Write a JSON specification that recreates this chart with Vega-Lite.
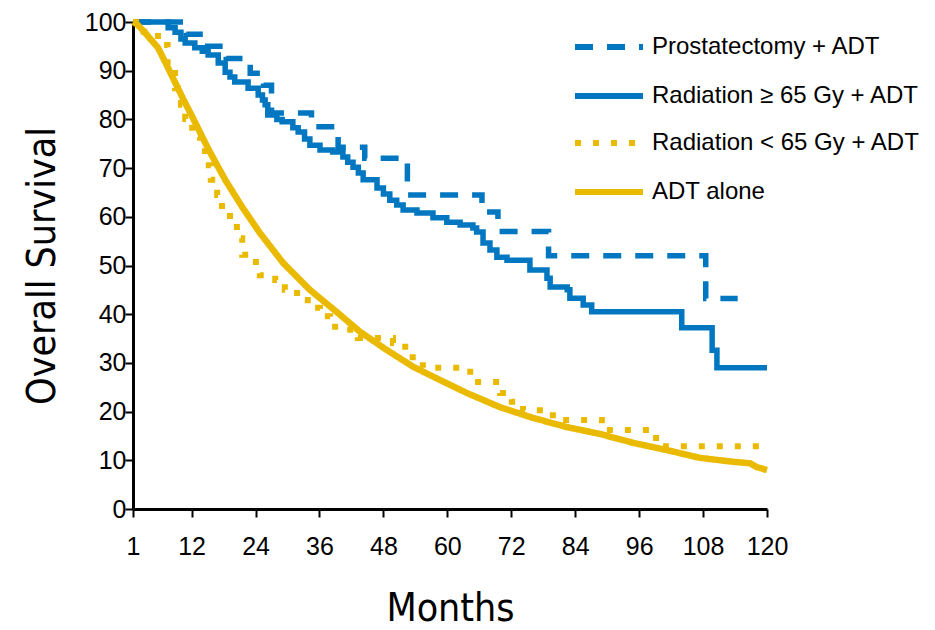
{
  "$schema": "https://vega.github.io/schema/vega-lite/v6.json",
  "width": 634,
  "height": 487,
  "autosize": "none",
  "padding": {"left": 133, "top": 22, "right": 168, "bottom": 121},
  "background": "white",
  "config": {
    "view": {"stroke": null},
    "font": "Liberation Sans",
    "axis": {
      "domainColor": "black", "domainWidth": 3, "tickColor": "black", "tickWidth": 2, "tickSize": 8,
      "labelColor": "black", "labelFont": "Liberation Sans", "labelFontSize": 25, "labelFlush": false, "labelOverlap": false,
      "titleColor": "black", "titleFont": "DejaVu Sans Condensed, Roboto, sans-serif", "titleFontSize": 39, "titleFontWeight": "normal",
      "grid": false
    },
    "legend": {
      "orient": "none", "title": null, "symbolType": "stroke", "symbolSize": 4624, "symbolStrokeWidth": 6,
      "labelFont": "Liberation Sans", "labelFontSize": 24, "labelColor": "black", "labelOffset": 6, "labelLimit": 400,
      "padding": 0, "rowPadding": -44
    }
  },
  "datasets": {
    "blue": [
      {"series": "Prostatectomy + ADT", "month": 1, "surv": 100},
      {"series": "Prostatectomy + ADT", "month": 11, "surv": 97.5},
      {"series": "Prostatectomy + ADT", "month": 14.5, "surv": 95},
      {"series": "Prostatectomy + ADT", "month": 18.5, "surv": 92.5},
      {"series": "Prostatectomy + ADT", "month": 23, "surv": 89.5},
      {"series": "Prostatectomy + ADT", "month": 25.5, "surv": 87},
      {"series": "Prostatectomy + ADT", "month": 27, "surv": 81.3},
      {"series": "Prostatectomy + ADT", "month": 34.5, "surv": 78.5},
      {"series": "Prostatectomy + ADT", "month": 39.5, "surv": 74.3},
      {"series": "Prostatectomy + ADT", "month": 44.5, "surv": 72},
      {"series": "Prostatectomy + ADT", "month": 52.5, "surv": 64.5},
      {"series": "Prostatectomy + ADT", "month": 66.5, "surv": 61},
      {"series": "Prostatectomy + ADT", "month": 69.5, "surv": 57},
      {"series": "Prostatectomy + ADT", "month": 79, "surv": 52},
      {"series": "Prostatectomy + ADT", "month": 108.5, "surv": 43.2},
      {"series": "Prostatectomy + ADT", "month": 114.5, "surv": 43.2},
      {"series": "Radiation ≥ 65 Gy + ADT", "month": 1, "surv": 100},
      {"series": "Radiation ≥ 65 Gy + ADT", "month": 7.6, "surv": 98.8},
      {"series": "Radiation ≥ 65 Gy + ADT", "month": 8.9, "surv": 97.9},
      {"series": "Radiation ≥ 65 Gy + ADT", "month": 10, "surv": 96.5},
      {"series": "Radiation ≥ 65 Gy + ADT", "month": 10.8, "surv": 95.7},
      {"series": "Radiation ≥ 65 Gy + ADT", "month": 12.6, "surv": 94.7},
      {"series": "Radiation ≥ 65 Gy + ADT", "month": 14, "surv": 94},
      {"series": "Radiation ≥ 65 Gy + ADT", "month": 15.1, "surv": 93.2},
      {"series": "Radiation ≥ 65 Gy + ADT", "month": 17, "surv": 91.6},
      {"series": "Radiation ≥ 65 Gy + ADT", "month": 18.3, "surv": 89.7},
      {"series": "Radiation ≥ 65 Gy + ADT", "month": 19.2, "surv": 88.7},
      {"series": "Radiation ≥ 65 Gy + ADT", "month": 20.1, "surv": 87.7},
      {"series": "Radiation ≥ 65 Gy + ADT", "month": 22.6, "surv": 86.4},
      {"series": "Radiation ≥ 65 Gy + ADT", "month": 24.5, "surv": 85},
      {"series": "Radiation ≥ 65 Gy + ADT", "month": 25.3, "surv": 84},
      {"series": "Radiation ≥ 65 Gy + ADT", "month": 25.8, "surv": 83},
      {"series": "Radiation ≥ 65 Gy + ADT", "month": 26.3, "surv": 80.9},
      {"series": "Radiation ≥ 65 Gy + ADT", "month": 28, "surv": 80},
      {"series": "Radiation ≥ 65 Gy + ADT", "month": 29, "surv": 79.5},
      {"series": "Radiation ≥ 65 Gy + ADT", "month": 31, "surv": 78.3},
      {"series": "Radiation ≥ 65 Gy + ADT", "month": 32, "surv": 77.4},
      {"series": "Radiation ≥ 65 Gy + ADT", "month": 33.2, "surv": 76},
      {"series": "Radiation ≥ 65 Gy + ADT", "month": 34.2, "surv": 74.7},
      {"series": "Radiation ≥ 65 Gy + ADT", "month": 36.1, "surv": 73.7},
      {"series": "Radiation ≥ 65 Gy + ADT", "month": 38.5, "surv": 73.3},
      {"series": "Radiation ≥ 65 Gy + ADT", "month": 40.4, "surv": 72.3},
      {"series": "Radiation ≥ 65 Gy + ADT", "month": 41.3, "surv": 71.2},
      {"series": "Radiation ≥ 65 Gy + ADT", "month": 42.3, "surv": 70.2},
      {"series": "Radiation ≥ 65 Gy + ADT", "month": 43.3, "surv": 69},
      {"series": "Radiation ≥ 65 Gy + ADT", "month": 44.2, "surv": 67.6},
      {"series": "Radiation ≥ 65 Gy + ADT", "month": 46.8, "surv": 65.9},
      {"series": "Radiation ≥ 65 Gy + ADT", "month": 48, "surv": 64.7},
      {"series": "Radiation ≥ 65 Gy + ADT", "month": 49.2, "surv": 63.4},
      {"series": "Radiation ≥ 65 Gy + ADT", "month": 50.5, "surv": 62.4},
      {"series": "Radiation ≥ 65 Gy + ADT", "month": 51.7, "surv": 61.4},
      {"series": "Radiation ≥ 65 Gy + ADT", "month": 54.3, "surv": 60.8},
      {"series": "Radiation ≥ 65 Gy + ADT", "month": 57.3, "surv": 59.8},
      {"series": "Radiation ≥ 65 Gy + ADT", "month": 59.9, "surv": 58.9},
      {"series": "Radiation ≥ 65 Gy + ADT", "month": 62.4, "surv": 58.3},
      {"series": "Radiation ≥ 65 Gy + ADT", "month": 64.8, "surv": 57.7},
      {"series": "Radiation ≥ 65 Gy + ADT", "month": 65.5, "surv": 56.9},
      {"series": "Radiation ≥ 65 Gy + ADT", "month": 66.7, "surv": 54.6},
      {"series": "Radiation ≥ 65 Gy + ADT", "month": 68, "surv": 53.2},
      {"series": "Radiation ≥ 65 Gy + ADT", "month": 69.3, "surv": 51.7},
      {"series": "Radiation ≥ 65 Gy + ADT", "month": 71.2, "surv": 51.1},
      {"series": "Radiation ≥ 65 Gy + ADT", "month": 75.5, "surv": 49.1},
      {"series": "Radiation ≥ 65 Gy + ADT", "month": 78.7, "surv": 47.4},
      {"series": "Radiation ≥ 65 Gy + ADT", "month": 79.3, "surv": 45.6},
      {"series": "Radiation ≥ 65 Gy + ADT", "month": 82.5, "surv": 45},
      {"series": "Radiation ≥ 65 Gy + ADT", "month": 83, "surv": 43.3},
      {"series": "Radiation ≥ 65 Gy + ADT", "month": 85.5, "surv": 41.9},
      {"series": "Radiation ≥ 65 Gy + ADT", "month": 87.1, "surv": 40.5},
      {"series": "Radiation ≥ 65 Gy + ADT", "month": 104, "surv": 37.2},
      {"series": "Radiation ≥ 65 Gy + ADT", "month": 109.7, "surv": 32.6},
      {"series": "Radiation ≥ 65 Gy + ADT", "month": 110.6, "surv": 29},
      {"series": "Radiation ≥ 65 Gy + ADT", "month": 120, "surv": 29}
    ],
    "dotted": [
      {"series": "Radiation < 65 Gy + ADT", "month": 1, "surv": 100},
      {"series": "Radiation < 65 Gy + ADT", "month": 3, "surv": 98},
      {"series": "Radiation < 65 Gy + ADT", "month": 5.7, "surv": 95.3},
      {"series": "Radiation < 65 Gy + ADT", "month": 7.5, "surv": 91},
      {"series": "Radiation < 65 Gy + ADT", "month": 8.9, "surv": 86.4},
      {"series": "Radiation < 65 Gy + ADT", "month": 10, "surv": 83},
      {"series": "Radiation < 65 Gy + ADT", "month": 10.8, "surv": 80.1},
      {"series": "Radiation < 65 Gy + ADT", "month": 12.1, "surv": 76.4},
      {"series": "Radiation < 65 Gy + ADT", "month": 13.6, "surv": 74.1},
      {"series": "Radiation < 65 Gy + ADT", "month": 14.5, "surv": 70.6},
      {"series": "Radiation < 65 Gy + ADT", "month": 15.6, "surv": 67.6},
      {"series": "Radiation < 65 Gy + ADT", "month": 16.8, "surv": 64.5},
      {"series": "Radiation < 65 Gy + ADT", "month": 17.7, "surv": 61},
      {"series": "Radiation < 65 Gy + ADT", "month": 19.2, "surv": 58.7},
      {"series": "Radiation < 65 Gy + ADT", "month": 20.5, "surv": 55.6},
      {"series": "Radiation < 65 Gy + ADT", "month": 21.5, "surv": 52.2},
      {"series": "Radiation < 65 Gy + ADT", "month": 23.5, "surv": 50.7},
      {"series": "Radiation < 65 Gy + ADT", "month": 24.8, "surv": 48},
      {"series": "Radiation < 65 Gy + ADT", "month": 27.7, "surv": 47},
      {"series": "Radiation < 65 Gy + ADT", "month": 29.5, "surv": 45},
      {"series": "Radiation < 65 Gy + ADT", "month": 31.8, "surv": 42.9},
      {"series": "Radiation < 65 Gy + ADT", "month": 33.8, "surv": 41.3},
      {"series": "Radiation < 65 Gy + ADT", "month": 36.1, "surv": 39.6},
      {"series": "Radiation < 65 Gy + ADT", "month": 38, "surv": 37.4},
      {"series": "Radiation < 65 Gy + ADT", "month": 40.8, "surv": 36.8},
      {"series": "Radiation < 65 Gy + ADT", "month": 43.2, "surv": 35.1},
      {"series": "Radiation < 65 Gy + ADT", "month": 49.8, "surv": 34.1},
      {"series": "Radiation < 65 Gy + ADT", "month": 52.1, "surv": 32.4},
      {"series": "Radiation < 65 Gy + ADT", "month": 53.5, "surv": 30.5},
      {"series": "Radiation < 65 Gy + ADT", "month": 55.4, "surv": 29},
      {"series": "Radiation < 65 Gy + ADT", "month": 64.3, "surv": 26.1},
      {"series": "Radiation < 65 Gy + ADT", "month": 69.9, "surv": 23.8},
      {"series": "Radiation < 65 Gy + ADT", "month": 72.1, "surv": 22},
      {"series": "Radiation < 65 Gy + ADT", "month": 74.2, "surv": 20.3},
      {"series": "Radiation < 65 Gy + ADT", "month": 79.8, "surv": 18.3},
      {"series": "Radiation < 65 Gy + ADT", "month": 89, "surv": 16.2},
      {"series": "Radiation < 65 Gy + ADT", "month": 98, "surv": 14.6},
      {"series": "Radiation < 65 Gy + ADT", "month": 100.5, "surv": 12.9},
      {"series": "Radiation < 65 Gy + ADT", "month": 120, "surv": 12.9}
    ],
    "adt": [
      {"series": "ADT alone", "month": 1, "surv": 100},
      {"series": "ADT alone", "month": 1.9, "surv": 99.4},
      {"series": "ADT alone", "month": 3.5, "surv": 97.5},
      {"series": "ADT alone", "month": 5.7, "surv": 94.7},
      {"series": "ADT alone", "month": 7.3, "surv": 91.2},
      {"series": "ADT alone", "month": 8.9, "surv": 87.6},
      {"series": "ADT alone", "month": 10.5, "surv": 84},
      {"series": "ADT alone", "month": 12.1, "surv": 80.6},
      {"series": "ADT alone", "month": 15.1, "surv": 74},
      {"series": "ADT alone", "month": 18.3, "surv": 67.6},
      {"series": "ADT alone", "month": 21.5, "surv": 62},
      {"series": "ADT alone", "month": 24.8, "surv": 56.7},
      {"series": "ADT alone", "month": 29.2, "surv": 50.5},
      {"series": "ADT alone", "month": 34.2, "surv": 45},
      {"series": "ADT alone", "month": 39.3, "surv": 40.4},
      {"series": "ADT alone", "month": 43.6, "surv": 36.4},
      {"series": "ADT alone", "month": 48.7, "surv": 32.6},
      {"series": "ADT alone", "month": 53.6, "surv": 29.2},
      {"series": "ADT alone", "month": 58.6, "surv": 26.5},
      {"series": "ADT alone", "month": 63.7, "surv": 23.8},
      {"series": "ADT alone", "month": 69.9, "surv": 20.9},
      {"series": "ADT alone", "month": 76.1, "surv": 18.7},
      {"series": "ADT alone", "month": 82.5, "surv": 16.8},
      {"series": "ADT alone", "month": 88.7, "surv": 15.4},
      {"series": "ADT alone", "month": 94.8, "surv": 13.6},
      {"series": "ADT alone", "month": 101.2, "surv": 12.1},
      {"series": "ADT alone", "month": 107.4, "surv": 10.5},
      {"series": "ADT alone", "month": 113.6, "surv": 9.7},
      {"series": "ADT alone", "month": 116.8, "surv": 9.4},
      {"series": "ADT alone", "month": 118.1, "surv": 8.6},
      {"series": "ADT alone", "month": 120, "surv": 8}
    ]
  },
  "encoding": {
    "x": {"field": "month", "type": "quantitative",
      "scale": {"domain": [1, 120], "nice": false, "zero": false},
      "axis": {"values": [1, 12, 24, 36, 48, 60, 72, 84, 96, 108, 120], "title": "Months", "labelPadding": 17, "titlePadding": 30}},
    "y": {"field": "surv", "type": "quantitative",
      "scale": {"domain": [0, 100], "nice": false},
      "axis": {"values": [0, 10, 20, 30, 40, 50, 60, 70, 80, 90, 100], "title": "Overall Survival", "labelPadding": -1, "titlePadding": 22}}
  },
  "layer": [
    {
      "data": {"name": "blue"},
      "mark": {"type": "line", "interpolate": "step-after", "strokeWidth": 5.5},
      "encoding": {
        "color": {"field": "series", "type": "nominal",
          "scale": {"domain": ["Prostatectomy + ADT", "Radiation ≥ 65 Gy + ADT"], "range": ["#0077C0", "#0077C0"]},
          "legend": {"legendX": 439, "legendY": -12}},
        "strokeDash": {"field": "series", "type": "nominal",
          "scale": {"domain": ["Prostatectomy + ADT", "Radiation ≥ 65 Gy + ADT"], "range": [[18, 14], [1, 0]]},
          "legend": {"legendX": 439, "legendY": -12}}
      }
    },
    {
      "layer": [
        {
          "data": {"name": "dotted"},
          "mark": {"type": "line", "interpolate": "step-after", "strokeWidth": 6},
          "encoding": {
            "color": {"field": "series", "type": "nominal",
              "scale": {"domain": ["Radiation < 65 Gy + ADT", "ADT alone"], "range": ["#EABA00", "#EABA00"]},
              "legend": {"legendX": 439, "legendY": 84}},
            "strokeDash": {"field": "series", "type": "nominal",
              "scale": {"domain": ["Radiation < 65 Gy + ADT", "ADT alone"], "range": [[6, 12], [1, 0]]},
              "legend": {"legendX": 439, "legendY": 84}}
          }
        },
        {
          "data": {"name": "adt"},
          "mark": {"type": "line", "interpolate": "linear", "strokeWidth": 6.5},
          "encoding": {
            "color": {"field": "series", "type": "nominal"},
            "strokeDash": {"field": "series", "type": "nominal"}
          }
        }
      ]
    }
  ],
  "resolve": {"scale": {"color": "independent", "strokeDash": "independent"}}
}
